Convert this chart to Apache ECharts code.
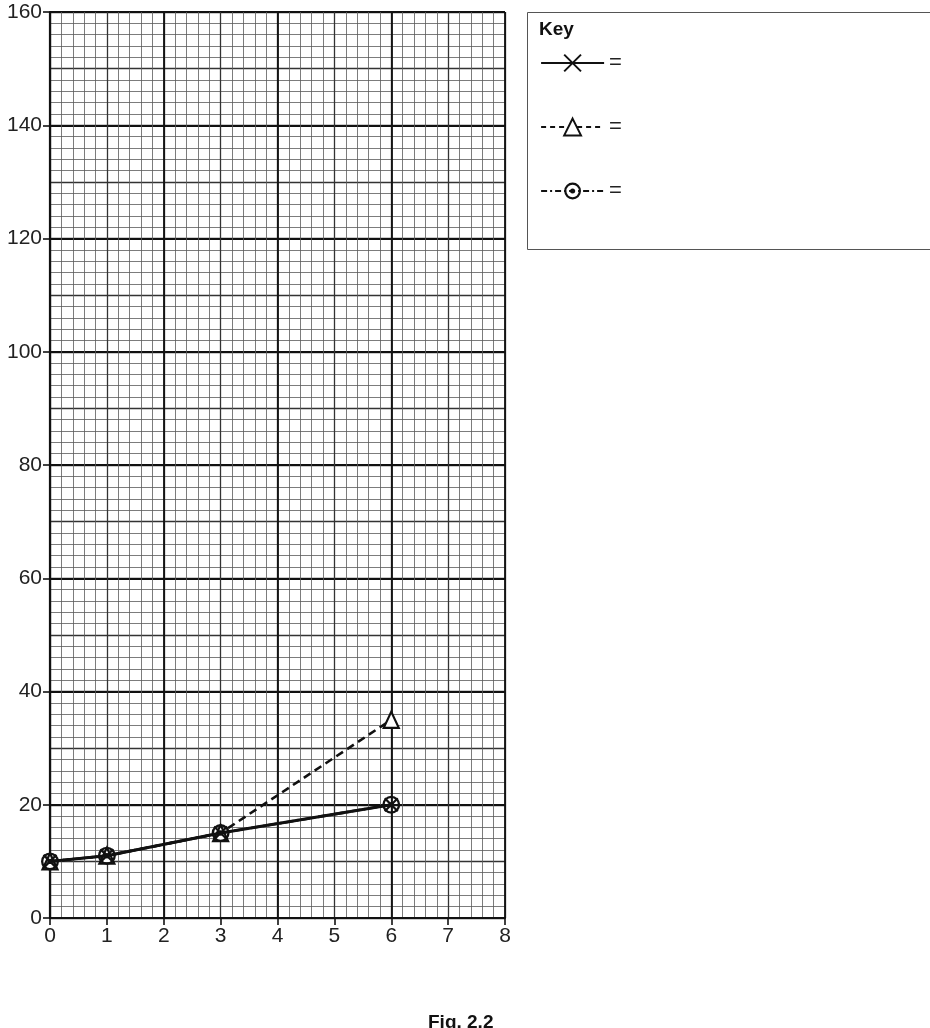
<!DOCTYPE html>
<html>
<head>
<meta charset="utf-8">
<script src="https://cdn.jsdelivr.net/npm/echarts@6/dist/echarts.min.js"></script>
<style>
html,body{margin:0;padding:0;background:#fff;}
#chart{width:930px;height:1028px;}
</style>
</head>
<body>
<div id="chart"></div>
<script>
// ---- data ----
const xValues = [0, 1, 3, 6];
const crossSeries = [10, 11, 15, 20];     // solid line, x markers
const triangleSeries = [10, 11, 15, 35];  // dashed line, triangle markers
const circleSeries = [10, 11, 15, 20];    // dash-dot line, circle-dot markers
const seriesNames = ['cross', 'triangle', 'circle'];
const xTicks = [0, 1, 2, 3, 4, 5, 6, 7, 8];
const yTicks = [0, 20, 40, 60, 80, 100, 120, 140, 160];

const toPairs = (ys) => xValues.map((x, i) => [x, ys[i]]);

const FONT = '"Liberation Sans", Arial, Helvetica, sans-serif';
const crossPath = 'path://M0,0 L10,10 M10,0 L0,10';
const circleDotPath = 'path://M-10,0 A10,10 0 1 0 10,0 A10,10 0 1 0 -10,0 Z ' +
  'M-7.4,0 A7.4,7.4 0 1 1 7.4,0 A7.4,7.4 0 1 1 -7.4,0 Z ' +
  'M-3,0 A3,3 0 1 0 3,0 A3,3 0 1 0 -3,0 Z';

const chart = echarts.init(document.getElementById('chart'));
const option = {
  backgroundColor: '#fff',
  animation: false,
  grid: { left: 50, top: 12, right: 425, bottom: 110, containLabel: false },
  xAxis: [
    {
      type: 'value', min: xTicks[0], max: xTicks[xTicks.length - 1], interval: 1,
      position: 'bottom',
      axisLine: { show: true, onZero: false, lineStyle: { color: '#111', width: 2.2 } },
      axisTick: { show: true, length: 7, lineStyle: { color: '#111', width: 1.6 } },
      axisLabel: { color: '#222', fontSize: 21, fontFamily: FONT, margin: 8 },
      splitLine: { show: true, lineStyle: { color: '#333', width: 1.3 } },
      minorTick: { show: false, splitNumber: 5 },
      minorSplitLine: { show: true, lineStyle: { color: '#5a5a5a', width: 0.8 } }
    },
    {
      type: 'value', min: 0, max: 8, interval: 2, position: 'top',
      axisLine: { show: false }, axisTick: { show: false }, axisLabel: { show: false },
      splitLine: { show: true, lineStyle: { color: '#111', width: 1.8 } }
    }
  ],
  yAxis: [
    {
      type: 'value', min: 0, max: 160, interval: 10, position: 'left',
      axisLine: { show: false }, axisTick: { show: false }, axisLabel: { show: false },
      splitLine: { show: true, lineStyle: { color: '#333', width: 1.3 } },
      minorTick: { show: false, splitNumber: 5 },
      minorSplitLine: { show: true, lineStyle: { color: '#5a5a5a', width: 0.8 } }
    },
    {
      type: 'value', min: yTicks[0], max: yTicks[yTicks.length - 1], interval: 20, position: 'left',
      axisLine: { show: true, onZero: false, lineStyle: { color: '#111', width: 2.2 } },
      axisTick: { show: true, length: 7, lineStyle: { color: '#111', width: 1.6 } },
      axisLabel: { color: '#222', fontSize: 21, fontFamily: FONT, margin: 8 },
      splitLine: { show: true, lineStyle: { color: '#111', width: 1.8 } }
    }
  ],
  legend: {
    orient: 'vertical', left: 540, top: 52, padding: 0,
    itemWidth: 63, itemHeight: 21, itemGap: 42,
    formatter: () => '=',
    textStyle: { color: '#222', fontSize: 22, fontFamily: FONT },
    data: [
      { name: seriesNames[0] },
      { name: seriesNames[1], lineStyle: { type: [5, 4], width: 2 } },
      { name: seriesNames[2], lineStyle: { type: [6, 3, 2, 3], width: 2.2 } }
    ]
  },
  graphic: [
    {
      type: 'rect', left: 527, top: 12, z: 0,
      shape: { width: 420, height: 237 },
      style: { fill: 'rgba(0,0,0,0)', stroke: '#555', lineWidth: 1 }
    },
    {
      type: 'text', left: 539, top: 20,
      style: { text: 'Key', fill: '#111', font: 'bold 19px ' + FONT }
    },
    {
      type: 'text', left: 428, top: 1013,
      style: { text: 'Fig. 2.2', fill: '#111', font: 'bold 19px ' + FONT }
    }
  ],
  series: [
    {
      name: seriesNames[1], type: 'line', xAxisIndex: 0, yAxisIndex: 1,
      data: toPairs(triangleSeries),
      symbol: 'triangle', symbolSize: [15, 16], z: 3,
      lineStyle: { color: '#111', width: 2.6, type: [8, 5] },
      itemStyle: { color: '#fff', borderColor: '#111', borderWidth: 2.2 }
    },
    {
      name: seriesNames[0], type: 'line', xAxisIndex: 0, yAxisIndex: 1,
      data: toPairs(crossSeries),
      symbol: crossPath, symbolSize: 13, z: 4,
      lineStyle: { color: '#111', width: 3, type: 'solid' },
      itemStyle: { color: 'rgba(0,0,0,0)', borderColor: '#111', borderWidth: 2.2 }
    },
    {
      name: seriesNames[2], type: 'line', xAxisIndex: 0, yAxisIndex: 1,
      data: toPairs(circleSeries),
      symbol: circleDotPath, symbolSize: 18, z: 5,
      lineStyle: { color: '#111', width: 2.6, type: [9, 3, 2, 3] },
      itemStyle: { color: '#111', borderWidth: 0 }
    }
  ]
};
chart.setOption(option);
</script>
</body>
</html>
